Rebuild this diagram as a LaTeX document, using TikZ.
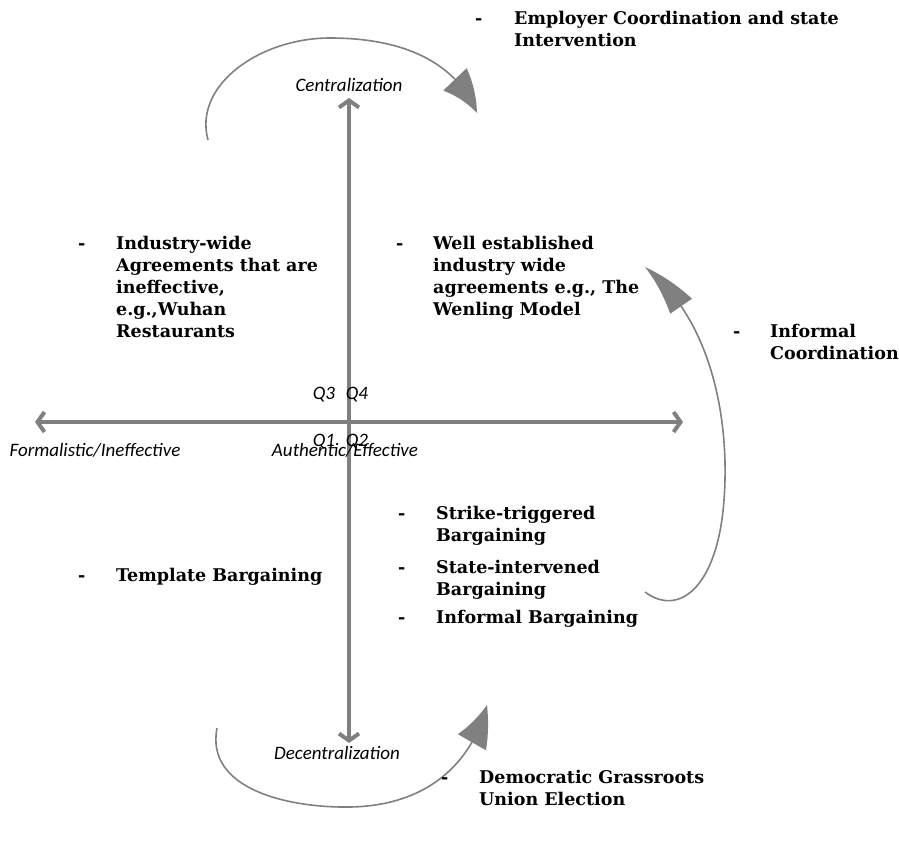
\documentclass[tikz,border=0pt]{standalone}
\usepackage{fontspec}
\setmainfont{DejaVu Serif}
\newfontfamily\labelfont{Carlito}
\usetikzlibrary{arrows.meta,bending}

\tikzset{
  axis/.style={draw=axisgray,line width=4pt,{Straight Barb[length=7pt,width=20pt]}-{Straight Barb[length=7pt,width=20pt]}},
  swing/.style={draw=axisgray,line width=1.6pt,-{Triangle[length=42pt,width=32pt,bend]}},
  item/.style={anchor=base west,inner sep=0pt,align=left,font=\fontsize{17.5}{22}\selectfont\bfseries},
  bullet/.style={anchor=base west,inner sep=0pt,font=\fontsize{17.5}{22}\selectfont\bfseries},
  axislabel/.style={inner sep=0pt,font=\labelfont\fontsize{19}{22}\selectfont\itshape}
}
\definecolor{axisgray}{RGB}{128,128,128}

\begin{document}
\begin{tikzpicture}[x=1pt,y=-1pt]
	\useasboundingbox (0,0) rectangle (899,846);

	% axes
	\coordinate (top) at (349,98);
	\coordinate (bottom) at (349,743);
	\coordinate (left) at (35,422);
	\coordinate (right) at (683,422);
	\draw[axis] (bottom) -- (top);
	\draw[axis] (left) -- (right);

	\node[axislabel] (central) at (349,85) {Centralization};
	\node[axislabel] (decentral) at (337,753) {Decentralization};
	\node[axislabel] (formal) at (95,450) {Formalistic/Ineffective};
	\node[axislabel] (authentic) at (345,450) {Authentic/Effective};
	\node[axislabel] (q3) at (324,395) {Q3};
	\node[axislabel] (q4) at (357,395) {Q4};
	\node[axislabel] (q1) at (324,442) {Q1};
	\node[axislabel] (q2) at (357,442) {Q2};

	% curved arrows
	\coordinate (topstart) at (208,140);
	\coordinate (toptip) at (477,113);
	\draw[swing] (topstart) .. controls (193,85) and (260,38) .. (330,38)
		.. controls (400,38) and (455,60) .. (toptip);

	\coordinate (rightstart) at (645,592);
	\coordinate (righttip) at (645,267);
	\draw[swing,-{Triangle[length=54pt,width=26pt,bend]}] (rightstart) .. controls (680,618) and (718,585) .. (724,500)
		.. controls (730,420) and (712,320) .. (righttip);

	\coordinate (bottomstart) at (217,728);
	\coordinate (bottomtip) at (487,705);
	\draw[swing] (bottomstart) .. controls (205,790) and (290,808) .. (350,807)
		.. controls (420,806) and (470,770) .. (bottomtip);

	% quadrant texts (anchored at the last line)
	\node[bullet] (d1) at (475,24) {-};
	\node[item] (employer) at (514,46) {Employer Coordination and state\\Intervention};

	\node[bullet] (d2) at (78,249) {-};
	\node[item] (industry) at (116,337) {Industry-wide\\Agreements that are\\ineffective,\\e.g.,Wuhan\\Restaurants};

	\node[bullet] (d3) at (396,249) {-};
	\node[item] (wenling) at (433,315) {Well established\\industry wide\\agreements e.g., The\\Wenling Model};

	\node[bullet] (d4) at (733,337) {-};
	\node[item] (informal) at (770,359) {Informal\\Coordination};

	\node[bullet] (d5) at (398,519) {-};
	\node[item] (strike) at (436,541) {Strike-triggered\\Bargaining};
	\node[bullet] (d6) at (398,573) {-};
	\node[item] (state) at (436,595) {State-intervened\\Bargaining};
	\node[bullet] (d7) at (398,623) {-};
	\node[item] (infbarg) at (436,623) {Informal Bargaining};

	\node[bullet] (d8) at (78,581) {-};
	\node[item] (template) at (116,581) {Template Bargaining};

	\node[bullet] (d9) at (441,783) {-};
	\node[item] (grassroots) at (479,805) {Democratic Grassroots\\Union Election};
\end{tikzpicture}
\end{document}
